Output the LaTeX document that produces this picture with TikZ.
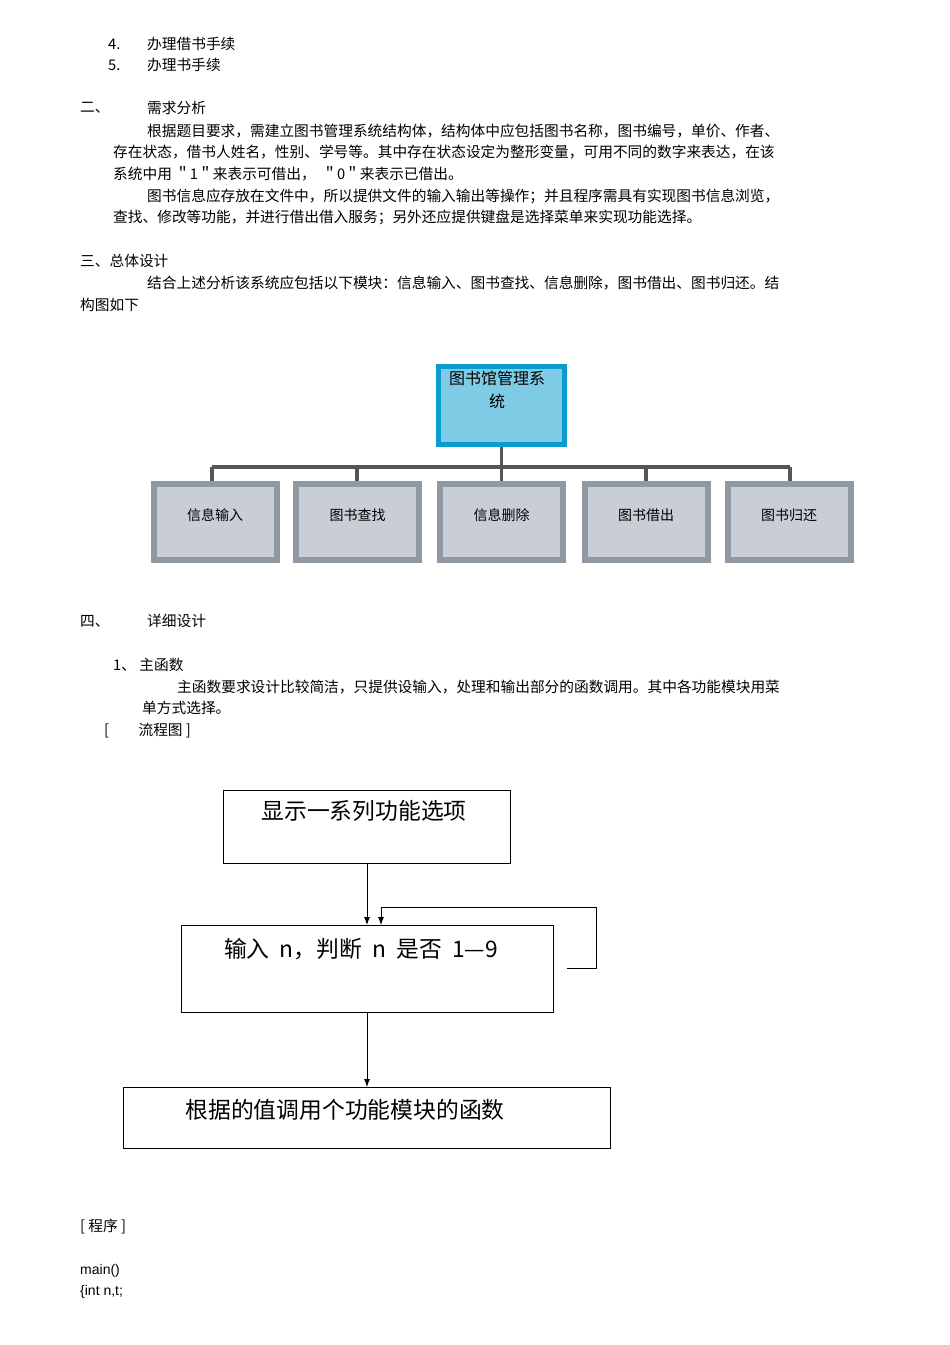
\documentclass[tikz,border=0pt]{standalone}
\usepackage{fontspec}
\setmainfont{Liberation Sans}
\newfontfamily\cjk{Noto Sans CJK SC}
\usetikzlibrary{arrows.meta}
\begin{document}
\begin{tikzpicture}[x=1pt,y=-1pt,
  txt/.style={anchor=west,inner sep=0pt,font=\cjk\fontsize{14.7}{16}\selectfont},
  child/.style={line width=6pt,fill={rgb,255:red,201;green,206;blue,214},minimum width=123pt,minimum height=76pt,inner sep=0pt},
  conn/.style={draw={rgb,255:red,85;green,85;blue,85},line width=3.5pt},
  ftxt/.style={font=\cjk\fontsize{22.8}{26}\selectfont},
  arr/.style={-{Latex[length=8pt,width=6pt]},line width=0.9pt}]
\useasboundingbox (0,0) rectangle (950,1345);
\fill[white] (0,0) rectangle (950,1345);
\node[txt] (l1) at (108,44) {4.};
\node[txt] (l1b) at (147,44) {办理借书手续};
\node[txt] (l2) at (108,65) {5.};
\node[txt] (l2b) at (147,65) {办理书手续};
\node[txt] (s2) at (80,108) {二、};
\node[txt] (s2b) at (147,108) {需求分析};
\node[txt] (p1) at (147,131) {根据题目要求，需建立图书管理系统结构体，结构体中应包括图书名称，图书编号，单价、作者、};
\node[txt] (p2) at (113,152) {存在状态，借书人姓名，性别、学号等。其中存在状态设定为整形变量，可用不同的数字来表达，在该};
\node[txt] (p3) at (113,174) {系统中用 ＂1＂来表示可借出，\ \ ＂0＂来表示已借出。};
\node[txt] (p4) at (147,196) {图书信息应存放在文件中，所以提供文件的输入输出等操作；并且程序需具有实现图书信息浏览，};
\node[txt] (p5) at (113,217) {查找、修改等功能，并进行借出借入服务；另外还应提供键盘是选择菜单来实现功能选择。};
\node[txt] (s3) at (80,261) {三、总体设计};
\node[txt] (p6) at (147,283) {结合上述分析该系统应包括以下模块：信息输入、图书查找、信息删除，图书借出、图书归还。结};
\node[txt] (p7) at (80,305) {构图如下};

\node[draw={rgb,255:red,10;green,156;blue,204},line width=5pt,fill={rgb,255:red,126;green,203;blue,230},minimum width=126pt,minimum height=78pt,inner sep=0pt] (root) at (501.5,405.5) {};
\node[font=\cjk\fontsize{16}{23}\selectfont,align=center,anchor=north] (rt) at (497,367) {图书馆管理系\\统};
\foreach \n/\x/\t in {a/215/信息输入,b/357.5/图书查找,c/501.5/信息删除,d/646/图书借出,e/789/图书归还}{
  \node[child,draw={rgb,255:red,143;green,153;blue,164}] (\n) at (\x,522) {};
  \node[font=\cjk\fontsize{14}{15}\selectfont] (\n t) at (\x,515) {\t};
}
\coordinate (h) at (501.5,467);
\draw[conn] (root.south) -- (h);
\draw[conn] (212,467) -- (790,467);
\foreach \n/\x in {a/212,b/357,c/501.5,d/646,e/790}{\draw[conn] (\x,467) -- (\x,481);}

\node[txt] (s4) at (80,621) {四、};
\node[txt] (s4b) at (147,621) {详细设计};
\node[txt] (m1) at (113,665) {1、\ 主函数};
\node[txt] (m2) at (177,687) {主函数要求设计比较简洁，只提供设输入，处理和输出部分的函数调用。其中各功能模块用菜};
\node[txt] (m3) at (142,708) {单方式选择。};
\node[txt] (m4) at (104,731) {[\qquad 流程图 ]};

\draw[line width=0.8pt] (223,790) rectangle (510,863);
\node[ftxt] (f1) at (364,811) {显示一系列功能选项};
\draw[line width=0.8pt] (181,925) rectangle (553,1012);
\node[ftxt] (f2) at (361,949) {输入 \ n，判断 \ n \ 是否 \ 1—9};
\draw[line width=0.8pt] (123,1087) rectangle (610,1148);
\node[ftxt] (f3) at (345,1110) {根据的值调用个功能模块的函数};
\coordinate (b1) at (367,863);
\coordinate (t2) at (367,925);
\coordinate (t2r) at (381,925);
\coordinate (b2) at (367,1012);
\coordinate (t3) at (367,1087);
\draw[arr] (b1) -- (t2);
\draw[arr] (567,968) -- (596,968) -- (596,907) -- (381,907) -- (t2r);
\draw[arr] (b2) -- (t3);

\node[txt] (g1) at (80,1227) {[ 程序 ]};
\node[txt,font=\fontsize{14}{15}\selectfont] (g2) at (80,1271) {main()};
\node[txt,font=\fontsize{14}{15}\selectfont] (g3) at (80,1292) {\{int n,t;};
\end{tikzpicture}
\end{document}
